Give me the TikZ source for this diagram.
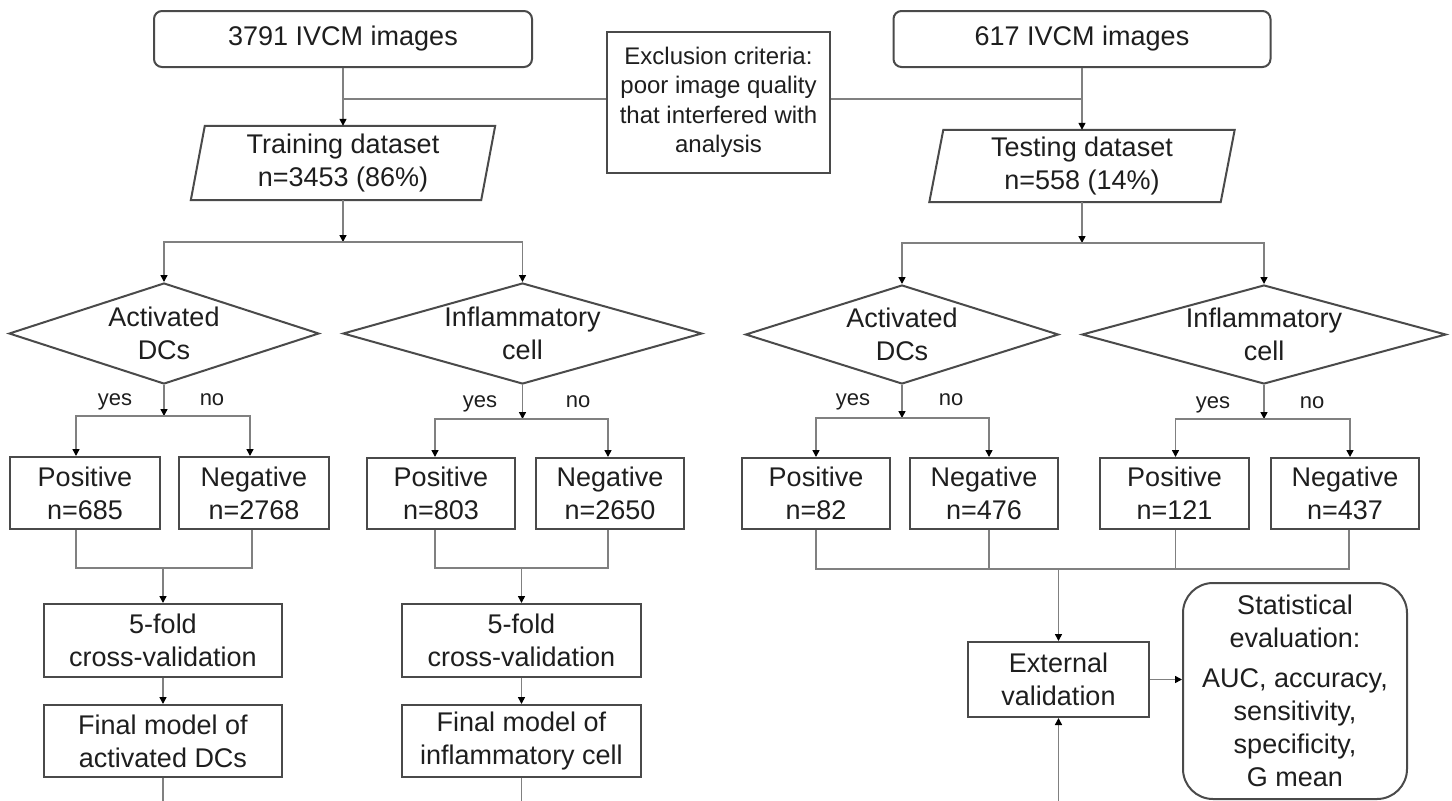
\documentclass[tikz,border=0pt]{standalone}
\usepackage{fontspec}
\setmainfont{Liberation Sans}
\usetikzlibrary{shapes.geometric,arrows.meta,calc}
\definecolor{boxc}{HTML}{4A4A4A}
\definecolor{linec}{HTML}{808080}
\definecolor{txtc}{HTML}{1E1E1E}
\begin{document}
\begin{tikzpicture}[x=1pt,y=-1pt,
  every node/.style={text=txtc, font=\fontsize{27}{33}\selectfont, align=center, inner sep=0pt},
  rbox/.style={draw=boxc, line width=2pt, rounded corners=8pt},
  sbox/.style={draw=boxc, line width=2pt},
  diam/.style={draw=boxc, line width=2pt, diamond},
  conn/.style={draw=linec, line width=1.5pt},
  arr/.style={conn, -{Triangle[length=7pt,width=7pt,color=black]}},
  lab/.style={font=\fontsize{22}{26}\selectfont, anchor=base},
  pline/.style={draw=boxc, line width=2pt}
]
\fill[white] (0,0) rectangle (1452,801);
\useasboundingbox (0,0) rectangle (1452,801);

% top row
\node[rbox, minimum width=378pt, minimum height=56pt] (img1) at (343,39) {3791 IVCM images};
\node[rbox, minimum width=377pt, minimum height=56pt] (img2) at (1082,39) {617 IVCM images};
\node[sbox, minimum width=223pt, minimum height=141pt, font=\fontsize{24}{29.5}\selectfont] (excl) at (718.5,102.5)
  {Exclusion criteria:\\poor image quality\\that interfered with\\analysis};

% datasets (parallelograms)
\node[minimum width=304pt, minimum height=74pt] (train) at (343,163) {Training dataset\\n=3453 (86\%)};
\draw[pline] ([xshift=14pt]train.north west) -- (train.north east) -- ([xshift=-14pt]train.south east) -- (train.south west) -- cycle;
\node[minimum width=305pt, minimum height=72pt] (test) at (1082,166) {Testing dataset\\n=558 (14\%)};
\draw[pline] ([xshift=14pt]test.north west) -- (test.north east) -- ([xshift=-14pt]test.south east) -- (test.south west) -- cycle;

% diamonds
\node[diam, minimum width=310pt, minimum height=101pt] (dA1) at (164,333.5) {};
\node at (dA1) {Activated\\DCs};
\node[diam, minimum width=359pt, minimum height=101pt] (dI1) at (522.5,333.5) {};
\node at (dI1) {Inflammatory\\cell};
\node[diam, minimum width=313pt, minimum height=99pt] (dA2) at (902,334.5) {};
\node at (dA2) {Activated\\DCs};
\node[diam, minimum width=364pt, minimum height=99pt] (dI2) at (1264,334.5) {};
\node at (dI2) {Inflammatory\\cell};

% yes / no
\node[lab] (y1) at (115,405) {yes};
\node[lab] (n1l) at (212,405) {no};
\node[lab] (y2) at (480,407) {yes};
\node[lab] (n2l) at (578,407) {no};
\node[lab] (y3) at (853,405) {yes};
\node[lab] (n3l) at (951,405) {no};
\node[lab] (y4) at (1213,408) {yes};
\node[lab] (n4l) at (1312,408) {no};

% positive / negative
\node[sbox, minimum width=150pt, minimum height=72pt] (p1) at (85,493) {Positive\\n=685};
\node[sbox, minimum width=150pt, minimum height=72pt] (n1) at (254,493) {Negative\\n=2768};
\node[sbox, minimum width=148pt, minimum height=71pt] (p2) at (441,493.5) {Positive\\n=803};
\node[sbox, minimum width=148pt, minimum height=71pt] (n2) at (610,493.5) {Negative\\n=2650};
\node[sbox, minimum width=148pt, minimum height=71pt] (p3) at (816,493.5) {Positive\\n=82};
\node[sbox, minimum width=148pt, minimum height=71pt] (n3) at (984,493.5) {Negative\\n=476};
\node[sbox, minimum width=149pt, minimum height=71pt] (p4) at (1174.5,493.5) {Positive\\n=121};
\node[sbox, minimum width=148pt, minimum height=71pt] (n4) at (1345,493.5) {Negative\\n=437};

% cross-validation and final models
\node[sbox, minimum width=238pt, minimum height=73pt] (cv1) at (163,640.5) {5-fold\\cross-validation};
\node[sbox, minimum width=238pt, minimum height=72pt] (fin1) at (163,741) {Final model of\\activated DCs};
\node[sbox, minimum width=239pt, minimum height=73pt] (cv2) at (521.5,640.5) {5-fold\\cross-validation};
\node[sbox, minimum width=239pt, minimum height=72pt] (fin2) at (521.5,741) {Final model of\\inflammatory cell};

% external validation and statistics
\node[sbox, minimum width=181pt, minimum height=75pt] (ext) at (1058.5,679.5) {External\\validation};
\node[draw=boxc, line width=2pt, rounded corners=30pt, minimum width=224pt, minimum height=216pt] (stat) at (1295,691)
  {Statistical\\evaluation:\\[7pt]AUC, accuracy,\\sensitivity,\\specificity,\\G mean};

% junction coordinates
\coordinate (sa) at (343,242);
\coordinate (sb) at (1082,243);
\coordinate (ja) at (164,416);
\coordinate (jb) at (522.5,419);
\coordinate (jc) at (902,418);
\coordinate (jd) at (1264,419);
\coordinate (ka) at (163,568);
\coordinate (kb) at (521.5,568);
\coordinate (kc) at (1058.5,569);
\coordinate (bot) at (0,801);

% top connectors
\draw[arr] (img1.south) -- (train.north);
\draw[arr] (img2.south) -- (test.north);
\draw[conn] ([yshift=3.5pt]excl.west) -- ([yshift=3.5pt]excl.west -| img1.south);
\draw[conn] ([yshift=3.5pt]excl.east) -- ([yshift=3.5pt]excl.east -| img2.south);

% dataset to diamonds
\draw[arr] (train.south) -- (sa);
\draw[arr] (sa) -| (dA1.north);
\draw[arr] (sa) -| (dI1.north);
\draw[arr] (test.south) -- (sb);
\draw[arr] (sb) -| (dA2.north);
\draw[arr] (sb) -| (dI2.north);

% diamonds to positive / negative
\draw[arr] (dA1.south) -- (ja);
\draw[arr] (ja) -| ([xshift=-9pt]p1.north);
\draw[arr] (ja) -| ([xshift=-4pt]n1.north);
\draw[arr] (dI1.south) -- (jb);
\draw[arr] (jb) -| ([xshift=-6pt]p2.north);
\draw[arr] (jb) -| ([xshift=-2pt]n2.north);
\draw[arr] (dA2.south) -- (jc);
\draw[arr] (jc) -| (p3.north);
\draw[arr] (jc) -| ([xshift=5pt]n3.north);
\draw[arr] (dI2.south) -- (jd);
\draw[arr] (jd) -| ([xshift=1pt]p4.north);
\draw[arr] (jd) -| ([xshift=5pt]n4.north);

% merges to cross-validation
\draw[conn] ([xshift=-9pt]p1.south) |- (ka);
\draw[conn] ([xshift=-2pt]n1.south) |- (ka);
\draw[arr] (ka) -- (cv1.north);
\draw[conn] ([xshift=-6pt]p2.south) |- (kb);
\draw[conn] ([xshift=-2pt]n2.south) |- (kb);
\draw[arr] (kb) -- (cv2.north);

\draw[arr] (cv1.south) -- (fin1.north);
\draw[arr] (cv2.south) -- (fin2.north);
\draw[conn] (fin1.south) -- (fin1.south |- bot);
\draw[conn] (fin2.south) -- (fin2.south |- bot);

% merge to external validation
\draw[conn] (p3.south) |- (kc);
\draw[conn] ([xshift=4pt]n4.south) |- (kc);
\draw[conn] ([xshift=5pt]n3.south) -- ([xshift=5pt]n3.south |- kc);
\draw[conn] ([xshift=1pt]p4.south) -- ([xshift=1pt]p4.south |- kc);
\draw[arr] (kc) -- (ext.north);
\draw[arr] (ext.south |- bot) -- (ext.south);
\draw[arr] (ext.east) -- (ext.east -| stat.west);
\end{tikzpicture}
\end{document}
